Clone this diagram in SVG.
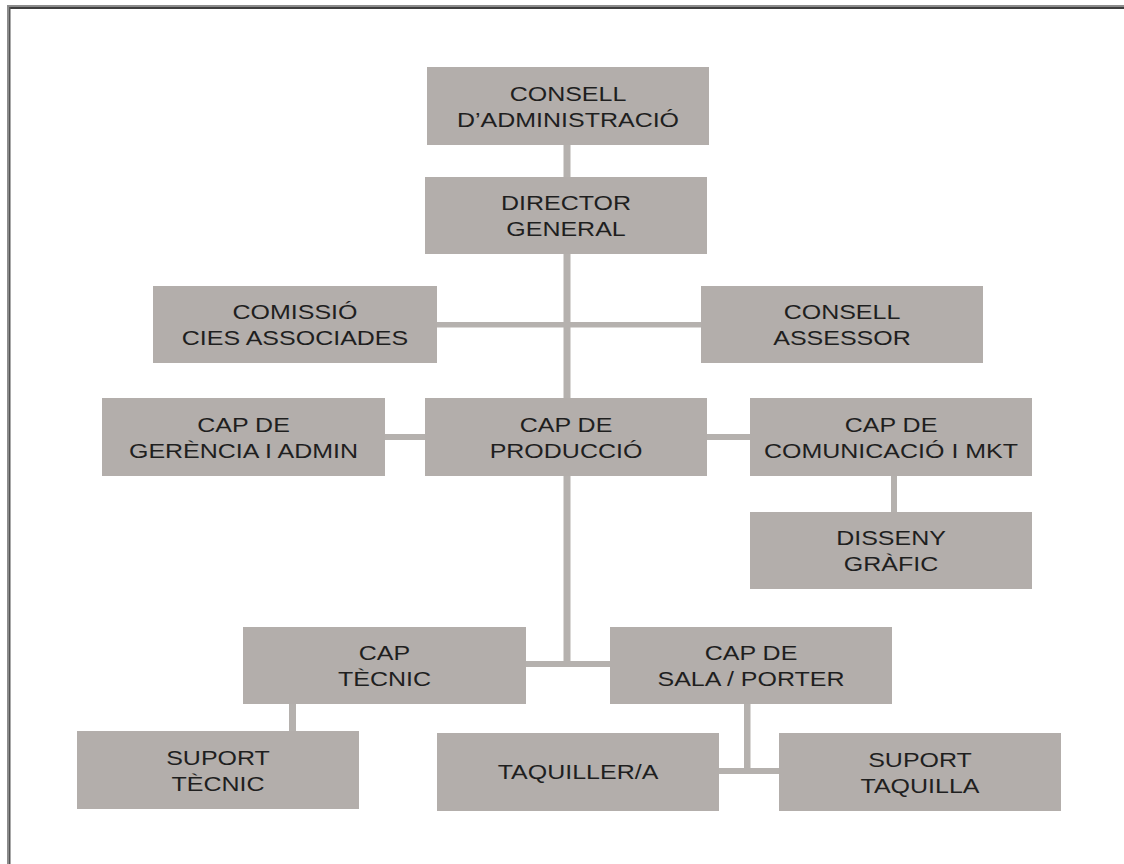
<svg xmlns="http://www.w3.org/2000/svg" width="1124" height="864" viewBox="0 0 1124 864">
<style>
.box{fill:#b3aeab}
.lbl{font-family:"Liberation Sans",Arial,sans-serif;font-size:21px;fill:#1f1f1f;text-anchor:middle}
.con{fill:#b5b1ae}
</style>
<rect x="0" y="0" width="1124" height="864" fill="#ffffff"/>
<g id="frame">
<rect x="7" y="5" width="1117" height="2" fill="#8c8c8c"/>
<rect x="7" y="7" width="1117" height="2" fill="#3f3f3f"/>
<rect x="7" y="5" width="2" height="859" fill="#8c8c8c"/>
<rect x="9" y="7" width="1.5" height="857" fill="#555555"/>
</g>
<g id="connectors">
<rect class="con" x="563.5" y="145" width="7" height="522"/>
<rect class="con" x="437" y="322" width="264" height="5.5"/>
<rect class="con" x="385" y="434" width="40" height="6"/>
<rect class="con" x="707" y="434" width="43" height="6"/>
<rect class="con" x="891" y="476" width="6" height="36"/>
<rect class="con" x="526" y="661" width="84" height="6"/>
<rect class="con" x="289" y="704" width="7" height="27"/>
<rect class="con" x="744" y="704" width="6.5" height="70"/>
<rect class="con" x="719" y="768" width="60" height="6"/>
</g>
<g id="n-consell-admin">
<rect class="box" x="427" y="67" width="282" height="78"/>
<text class="lbl" transform="translate(568 0) scale(1.19 1)"><tspan x="0" y="101">CONSELL</tspan><tspan x="0" y="127">D’ADMINISTRACIÓ</tspan></text>
</g>
<g id="n-director">
<rect class="box" x="425" y="177" width="282" height="77"/>
<text class="lbl" transform="translate(566 0) scale(1.19 1)"><tspan x="0" y="210.5">DIRECTOR</tspan><tspan x="0" y="236.5">GENERAL</tspan></text>
</g>
<g id="n-comissio">
<rect class="box" x="153" y="286" width="284" height="77"/>
<text class="lbl" transform="translate(295 0) scale(1.19 1)"><tspan x="0" y="319.5">COMISSIÓ</tspan><tspan x="0" y="345.5">CIES ASSOCIADES</tspan></text>
</g>
<g id="n-consell-assessor">
<rect class="box" x="701" y="286" width="282" height="77"/>
<text class="lbl" transform="translate(842 0) scale(1.19 1)"><tspan x="0" y="319.5">CONSELL</tspan><tspan x="0" y="345.5">ASSESSOR</tspan></text>
</g>
<g id="n-gerencia">
<rect class="box" x="102" y="398" width="283" height="78"/>
<text class="lbl" transform="translate(243.5 0) scale(1.19 1)"><tspan x="0" y="432">CAP DE</tspan><tspan x="0" y="458">GERÈNCIA I ADMIN</tspan></text>
</g>
<g id="n-produccio">
<rect class="box" x="425" y="398" width="282" height="78"/>
<text class="lbl" transform="translate(566 0) scale(1.19 1)"><tspan x="0" y="432">CAP DE</tspan><tspan x="0" y="458">PRODUCCIÓ</tspan></text>
</g>
<g id="n-comunicacio">
<rect class="box" x="750" y="398" width="282" height="78"/>
<text class="lbl" transform="translate(891 0) scale(1.19 1)"><tspan x="0" y="432">CAP DE</tspan><tspan x="0" y="458">COMUNICACIÓ I MKT</tspan></text>
</g>
<g id="n-disseny">
<rect class="box" x="750" y="512" width="282" height="77"/>
<text class="lbl" transform="translate(891 0) scale(1.19 1)"><tspan x="0" y="545.5">DISSENY</tspan><tspan x="0" y="571.5">GRÀFIC</tspan></text>
</g>
<g id="n-cap-tecnic">
<rect class="box" x="243" y="627" width="283" height="77"/>
<text class="lbl" transform="translate(384.5 0) scale(1.19 1)"><tspan x="0" y="660.5">CAP</tspan><tspan x="0" y="686.5">TÈCNIC</tspan></text>
</g>
<g id="n-cap-sala">
<rect class="box" x="610" y="627" width="282" height="77"/>
<text class="lbl" transform="translate(751 0) scale(1.19 1)"><tspan x="0" y="660.5">CAP DE</tspan><tspan x="0" y="686.5">SALA / PORTER</tspan></text>
</g>
<g id="n-suport-tecnic">
<rect class="box" x="77" y="731" width="282" height="78"/>
<text class="lbl" transform="translate(218 0) scale(1.19 1)"><tspan x="0" y="765">SUPORT</tspan><tspan x="0" y="791">TÈCNIC</tspan></text>
</g>
<g id="n-taquiller">
<rect class="box" x="437" y="733" width="282" height="78"/>
<text class="lbl" transform="translate(578 0) scale(1.19 1)"><tspan x="0" y="779.5">TAQUILLER/A</tspan></text>
</g>
<g id="n-suport-taquilla">
<rect class="box" x="779" y="733" width="282" height="78"/>
<text class="lbl" transform="translate(920 0) scale(1.19 1)"><tspan x="0" y="767">SUPORT</tspan><tspan x="0" y="793">TAQUILLA</tspan></text>
</g>
</svg>
